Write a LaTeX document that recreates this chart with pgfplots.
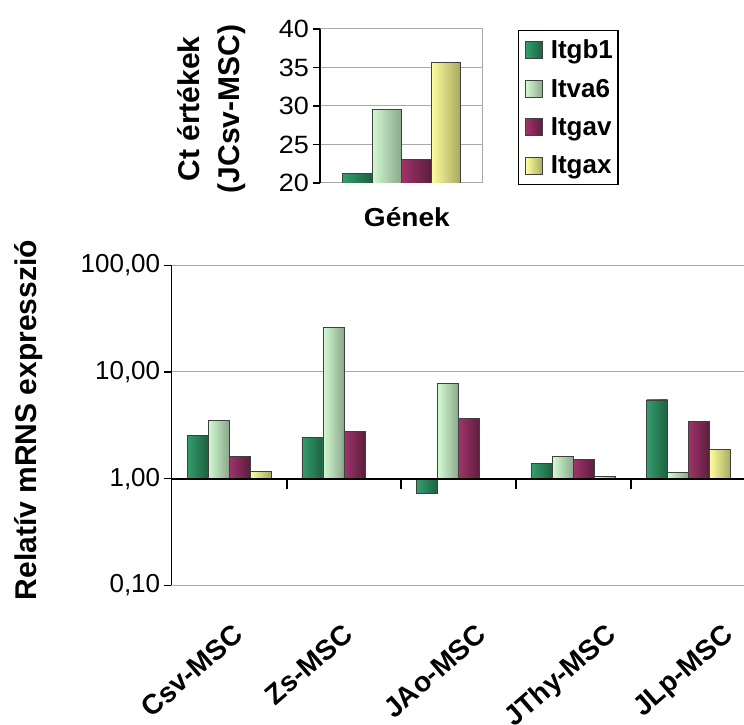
\documentclass[border=0pt]{standalone}
\usepackage{pgfplots}
\pgfplotsset{compat=1.18}
\usepackage{fontspec}
\setmainfont{Liberation Sans}
\newfontfamily\widefont[FakeStretch=1.08]{Liberation Sans}
\definecolor{gAl}{HTML}{339E6C}
\definecolor{gAr}{HTML}{1D6040}
\definecolor{gBl}{HTML}{D2FAD2}
\definecolor{gBr}{HTML}{8AA88A}
\definecolor{gCl}{HTML}{A0336A}
\definecolor{gCr}{HTML}{5A1E3C}
\definecolor{gDl}{HTML}{FFFF9E}
\definecolor{gDr}{HTML}{A8A860}
\definecolor{gridc}{HTML}{A8A8A8}
\pgfplotsset{
  sA/.style={draw=black!75, line width=0.8pt, left color=gAl, right color=gAr},
  sB/.style={draw=black!75, line width=0.8pt, left color=gBl, right color=gBr},
  sC/.style={draw=black!75, line width=0.8pt, left color=gCl, right color=gCr},
  sD/.style={draw=black!75, line width=0.8pt, left color=gDl, right color=gDr},
  bA/.style={ybar, bar width=21pt, bar shift=-31.5pt, sA},
  bB/.style={ybar, bar width=21pt, bar shift=-10.5pt, sB},
  bC/.style={ybar, bar width=21pt, bar shift=10.5pt, sC},
  bD/.style={ybar, bar width=21pt, bar shift=31.5pt, sD},
}
\begin{document}
\begin{tikzpicture}
\useasboundingbox (0,0) rectangle (744pt,725pt);
% ---------- top axis ----------
\begin{axis}[
  at={(320pt,542pt)}, anchor=south west, scale only axis,
  width=163pt, height=154pt,
  xmin=-0.5, xmax=0.5, ymin=20, ymax=40,
  ybar=0pt, bar width=29.5pt,
  clip mode=individual,
  xtick=\empty,
  ytick={20,25,30,35,40}, yticklabels={20,25,30,35,40},
  ytick pos=left,
  ymajorgrids, grid style={gridc, line width=1pt},
  axis line style={gridc, line width=1pt},
  tick align=outside, major tick length=7.5pt,
  ytick style={black, line width=1.3pt},
  yticklabel style={font=\widefont\fontsize{25}{25}\selectfont},
  ylabel={Ct értékek\\(JCsv-MSC)},
  ylabel style={align=center, at={(axis description cs:-0.665,0.48)}, anchor=center,
    font=\bfseries\fontsize{30}{40}\selectfont},
  xlabel={Gének},
  xlabel style={at={(axis description cs:0.533,-0.221)}, anchor=center,
    font=\widefont\bfseries\fontsize{26}{26}\selectfont},
  legend style={at={(axis description cs:1.216,0.9935)}, anchor=north west,
    draw=black, line width=1.2pt, font=\bfseries\fontsize{26}{26}\selectfont,
    row sep=15pt, inner xsep=3pt, inner ysep=7pt},
  legend cell align=left,
  legend image code/.code={\path[draw=none, fill=none] (0pt,0pt) -- (27pt,0pt);
    \draw[#1, line width=0.8pt] (4pt,-8.5pt) rectangle (21pt,8.5pt);},
]
\addplot[sA] coordinates {(0,21.26)};
\addplot[sB] coordinates {(0,29.6)};
\addplot[sC] coordinates {(0,23.08)};
\addplot[sD] coordinates {(0,35.6)};
\legend{Itgb1,Itva6,Itgav,Itgax}
\draw[black, line width=1.3pt] (rel axis cs:0,0) -- (rel axis cs:0,1);
\end{axis}
% ---------- bottom axis ----------
\begin{axis}[
  at={(171.7pt,139.7pt)}, anchor=south west, scale only axis,
  width=574.3pt, height=320pt,
  ymode=log, ymin=0.1, ymax=100, xmin=-0.5, xmax=4.5,
  clip mode=individual,
  ytick={0.1,1,10,100}, yticklabels={{0,10},{1,00},{10,00},{100,00}},
  yminorticks=false, ytick pos=left,
  ymajorgrids, grid style={gridc, line width=1pt},
  axis line style={gridc, line width=1pt},
  tick align=outside, major tick length=8pt,
  ytick style={black, line width=1.3pt},
  yticklabel style={font=\fontsize{26}{26}\selectfont},
  xtick={0.143,1.100,2.261,3.392,4.408},
  xticklabels={Csv-MSC,Zs-MSC,JAo-MSC,JThy-MSC,JLp-MSC},
  xtick style={draw=none},
  xticklabel style={yshift=-40pt, rotate=41, anchor=east,
    text height=0.75em, text depth=0.2em,
    font=\bfseries\fontsize{28}{28}\selectfont},
  ylabel={Relatív mRNS expresszió},
  ylabel style={at={(axis description cs:-0.2485,0.5166)}, anchor=center,
    font=\bfseries\fontsize{30}{30}\selectfont},
]
% Csv-MSC
\addplot[bA] coordinates {(0,2.55)};
\addplot[bB] coordinates {(0,3.52)};
\addplot[bC] coordinates {(0,1.62)};
\addplot[bD] coordinates {(0,1.16)};
% Zs-MSC
\addplot[bA] coordinates {(1,2.44)};
\addplot[bB] coordinates {(1,26.2)};
\addplot[bC] coordinates {(1,2.77)};
% JAo-MSC
\addplot[bA] coordinates {(2,0.73)};
\addplot[bB] coordinates {(2,7.82)};
\addplot[bC] coordinates {(2,3.65)};
% JThy-MSC
\addplot[bA] coordinates {(3,1.40)};
\addplot[bB] coordinates {(3,1.62)};
\addplot[bC] coordinates {(3,1.52)};
\addplot[bD] coordinates {(3,1.05)};
% JLp-MSC
\addplot[bA] coordinates {(4,5.47)};
\addplot[bB] coordinates {(4,1.15)};
\addplot[bC] coordinates {(4,3.42)};
\addplot[bD] coordinates {(4,1.87)};
\draw[black, line width=2pt] (axis cs:-0.5,1) -- (axis cs:4.5,1);
\draw[black, line width=2pt] (axis cs:0.5,1) -- ++(0pt,-10pt);
\draw[black, line width=2pt] (axis cs:1.5,1) -- ++(0pt,-10pt);
\draw[black, line width=2pt] (axis cs:2.5,1) -- ++(0pt,-10pt);
\draw[black, line width=2pt] (axis cs:3.5,1) -- ++(0pt,-10pt);
\draw[black, line width=1.5pt] (rel axis cs:0,0) -- (rel axis cs:0,1);
\end{axis}
\end{tikzpicture}
\end{document}
